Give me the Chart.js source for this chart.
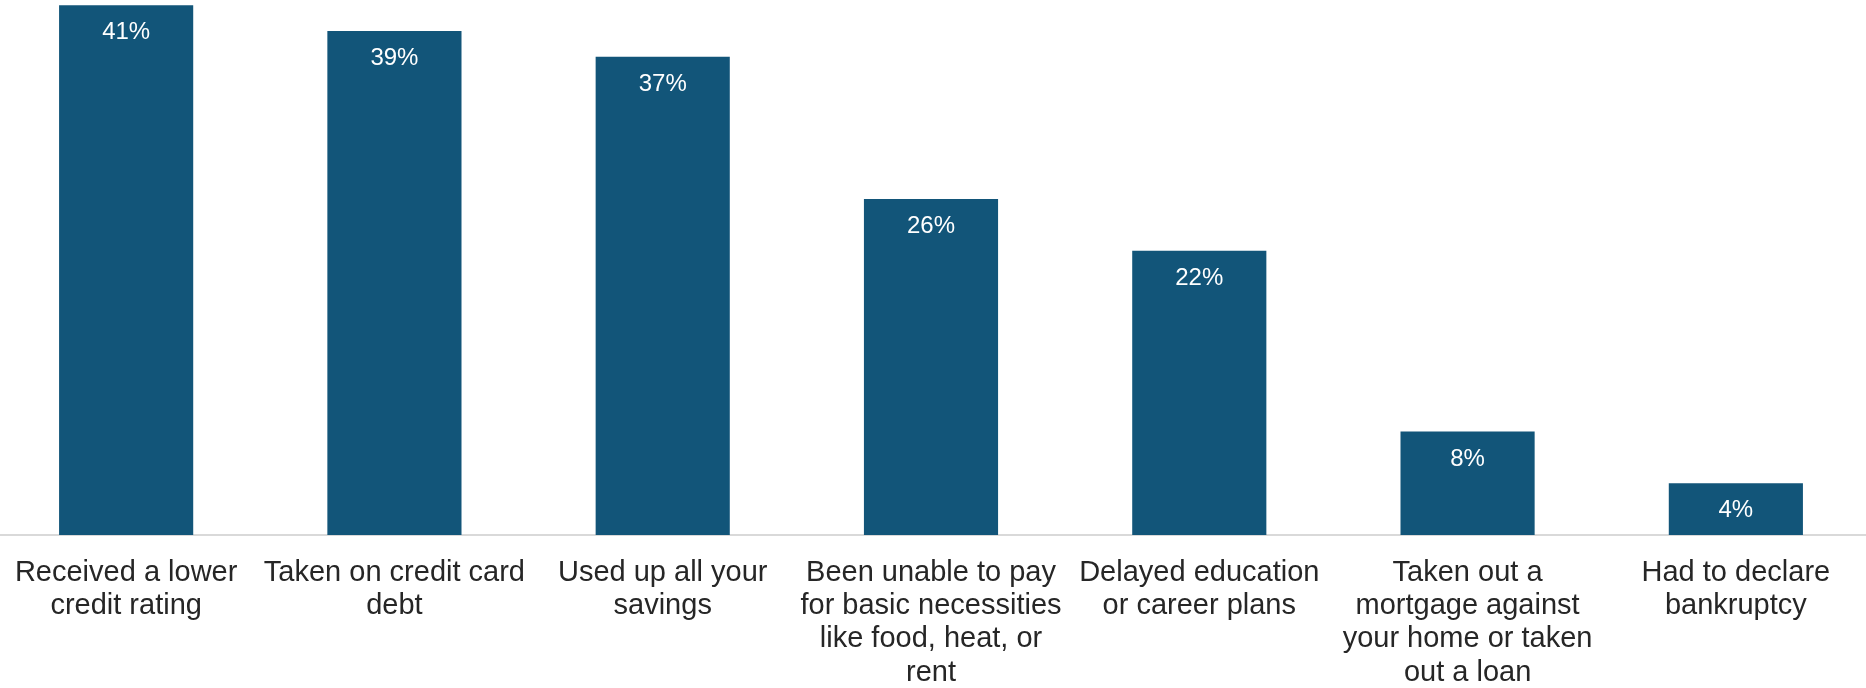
<!DOCTYPE html>
<html>
<head>
<meta charset="utf-8">
<title>Financial impact</title>
<script src="https://cdn.jsdelivr.net/npm/chart.js@4"></script>
<style>
    html, body { margin: 0; padding: 0; background: #ffffff; overflow: hidden; }
    body { width: 1866px; height: 688px; position: relative; }
    #impactChart { position: absolute; left: -8px; top: 0; }
</style>
</head>
<body>
<canvas id="impactChart" width="1878" height="688"></canvas>
<script>
// Category labels, one array of lines per bar
const categories = [
    ['Received a lower', 'credit rating'],
    ['Taken on credit card', 'debt'],
    ['Used up all your', 'savings'],
    ['Been unable to pay', 'for basic necessities', 'like food, heat, or', 'rent'],
    ['Delayed education', 'or career plans'],
    ['Taken out a', 'mortgage against', 'your home or taken', 'out a loan'],
    ['Had to declare', 'bankruptcy']
];

// Share of respondents, in percent
const shares = [41, 39, 37, 26, 22, 8, 4];

const barColor = '#125579';
const fontFamily = "'Liberation Sans', Arial, sans-serif";

// Writes the value inside the top of each bar
const valueLabels = {
    id: 'valueLabels',
    afterDatasetsDraw(chart) {
        const ctx = chart.ctx;
        const meta = chart.getDatasetMeta(0);
        ctx.save();
        ctx.font = '24px ' + fontFamily;
        ctx.fillStyle = '#ffffff';
        ctx.textAlign = 'center';
        ctx.textBaseline = 'alphabetic';
        meta.data.forEach((bar, i) => {
            ctx.fillText(shares[i] + '%', bar.x, bar.y + 34);
        });
        ctx.restore();
    }
};

const ctx = document.getElementById('impactChart').getContext('2d');
new Chart(ctx, {
    type: 'bar',
    data: {
        labels: categories,
        datasets: [{
            data: shares,
            backgroundColor: barColor,
            borderWidth: 0,
            barPercentage: 0.5,
            categoryPercentage: 1.0
        }]
    },
    options: {
        responsive: false,
        animation: false,
        layout: { padding: 0 },
        plugins: {
            legend: { display: false },
            tooltip: { enabled: false }
        },
        scales: {
            x: {
                grid: { display: false, drawTicks: false },
                border: { display: true, color: '#d9d9d9', width: 2 },
                ticks: {
                    color: '#262626',
                    font: { family: fontFamily, size: 29, lineHeight: 1.15 },
                    padding: 21,
                    maxRotation: 0,
                    minRotation: 0,
                    autoSkip: false
                },
                afterFit(scale) {
                    scale.height = 153;
                }
            },
            y: {
                display: false,
                min: 0,
                max: 41.4
            }
        }
    },
    plugins: [valueLabels]
});
</script>
</body>
</html>
